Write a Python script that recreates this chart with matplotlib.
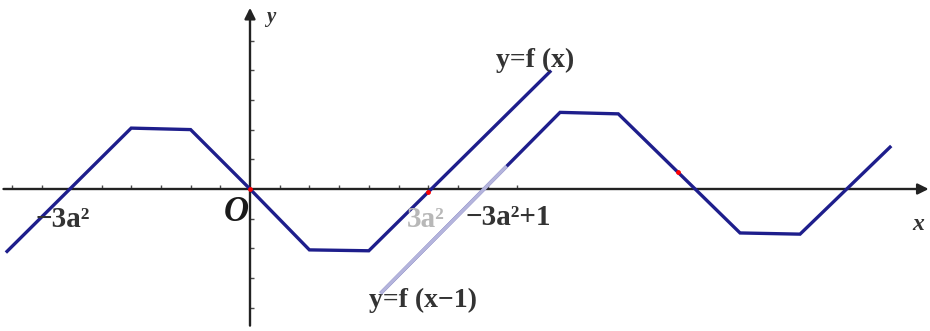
import matplotlib
matplotlib.use("Agg")
import matplotlib.pyplot as plt
import numpy as np

# polyline vertices (one grid unit = one tick)
f_x = [-8.18, -4.0, -2.0, 0.0, 2.0, 4.0, 10.1]
f_y = [-2.1, 2.05, 2.0, 0.0, -2.05, -2.08, 3.95]

g_x = [4.44, 10.44, 12.4, 16.5, 18.52, 21.55]
g_y = [-3.47, 2.58, 2.53, -1.48, -1.52, 1.41]

# part of the shifted curve that is washed out in the scan
g_faded_x = [4.44, 8.6]

x_ticks = [t for t in range(-8, 10) if t != 0]
y_ticks = [t for t in range(-4, 6) if t != 0]

# red marked points (x positions on f and on the shifted curve)
dots_f = [0.0, 6.0]
dots_g = [14.4]

navy = "#1e1e8c"
axis_col = "#4a4a4a"
u = 29.7  # pixels per unit

fig = plt.figure(figsize=(9.3, 3.31), dpi=100)
ax = fig.add_axes([0, 0, 1, 1])
ax.set_xlim(-250 / u, (930 - 250) / u)
ax.set_ylim((189 - 331) / u, 189 / u)
ax.axis("off")

# axes with arrows
ax.annotate("", xy=(22.85, 0), xytext=(-8.3, 0),
            arrowprops=dict(arrowstyle="-|>", color="#222222", lw=1.7,
                            mutation_scale=16, shrinkA=0, shrinkB=0))
ax.annotate("", xy=(0, 6.1), xytext=(0, -4.6),
            arrowprops=dict(arrowstyle="-|>", color="#222222", lw=1.7,
                            mutation_scale=16, shrinkA=0, shrinkB=0))
ax.vlines(x_ticks, 0, 0.12, color=axis_col, lw=1.0)
ax.hlines(y_ticks, 0, 0.12, color=axis_col, lw=1.0)

# curves
ax.plot(f_x, f_y, color=navy, lw=2.4, solid_joinstyle="miter", zorder=3)
ax.plot(g_x, g_y, color=navy, lw=2.4, solid_joinstyle="miter", zorder=3)
fx = np.linspace(g_faded_x[0], g_faded_x[1], 20)
ax.plot(fx, np.interp(fx, g_x, g_y), color="#b4b4dc", lw=2.6, zorder=4)

ax.scatter(dots_f, np.interp(dots_f, f_x, f_y), s=6, color="red", zorder=5)
ax.scatter(dots_g, np.interp(dots_g, g_x, g_y), s=6, color="red", zorder=5)

serif = "Liberation Serif"
tkw = dict(family=serif, fontweight="bold", ha="center", va="center")
ax.text(-6.3, -1.02, "\u22123a\u00b2", fontsize=21, color="#333333", **tkw)
ax.text(-0.47, -0.8, "O", fontsize=25, style="italic", color="#1a1a1a", **tkw)
ax.text(5.9, -1.02, "3a\u00b2", fontsize=21, color="#b8b8b8", **tkw)
ax.text(8.7, -0.95, "\u22123a\u00b2+1", fontsize=21, color="#333333", **tkw)
ax.text(9.6, 4.34, "y=f (x)", fontsize=20, color="#333333", **tkw)
ax.text(5.82, -3.74, "y=f (x\u22121)", fontsize=20, color="#333333", **tkw)
ax.text(22.5, -1.2, "x", fontsize=17, style="italic", color="#333333", **tkw)
ax.text(0.7, 5.78, "y", fontsize=15, style="italic", color="#333333", **tkw)

fig.savefig("out.png", dpi=100)
